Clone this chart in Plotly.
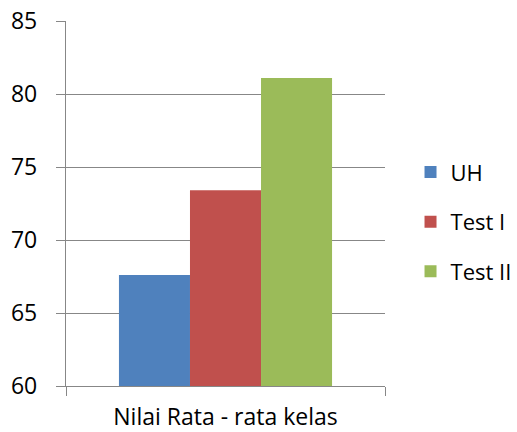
import plotly.graph_objects as go

categories = ["Nilai Rata - rata kelas"]
series_names = ["UH", "Test I", "Test II"]
uh_values = [67.6]
test1_values = [73.4]
test2_values = [81.1]
colors = ["#4F81BD", "#C0504D", "#9BBB59"]
y_ticks = [60, 65, 70, 75, 80, 85]

FONT = "Open Sans"
GRID = "#878787"

fig = go.Figure()
for i, (name, vals) in enumerate(zip(series_names, [uh_values, test1_values, test2_values])):
    fig.add_trace(go.Bar(
        x=categories, y=vals, name=name, legendgroup=name,
        marker=dict(color=colors[i], line=dict(width=0)),
        hoverinfo="y+name",
    ))

fig.update_layout(
    width=517, height=432,
    margin=dict(l=66, r=132, t=21, b=46, pad=0, autoexpand=False),
    paper_bgcolor="white", plot_bgcolor="white",
    barmode="group", bargap=0.332, bargroupgap=0,
    font=dict(family=FONT, size=23, color="#000000"),
    showlegend=True,
    legend=dict(
        x=1.08, xanchor="left", y=0.45, yanchor="middle",
        xref="paper", yref="paper",
        font=dict(family=FONT, size=22, color="#000000"),
        tracegroupgap=18, bgcolor="rgba(0,0,0,0)",
        itemwidth=30,
    ),
)

fig.update_yaxes(
    range=[60, 85], tickvals=y_ticks, ticktext=[str(v) for v in y_ticks],
    showgrid=True, gridcolor=GRID, gridwidth=1.3,
    showline=True, linecolor=GRID, linewidth=1.3,
    ticks="outside", ticklen=9, tickcolor=GRID, tickwidth=1.3,
    ticklabelstandoff=14,
    zeroline=False, fixedrange=True,
)
fig.update_xaxes(
    showline=True, linecolor=GRID, linewidth=1.3,
    ticks="outside", ticklen=9, tickcolor=GRID, tickwidth=1.3,
    tickson="boundaries", showgrid=False,
    ticklabelstandoff=10,
    fixedrange=True,
)

fig.write_html("out.html")
